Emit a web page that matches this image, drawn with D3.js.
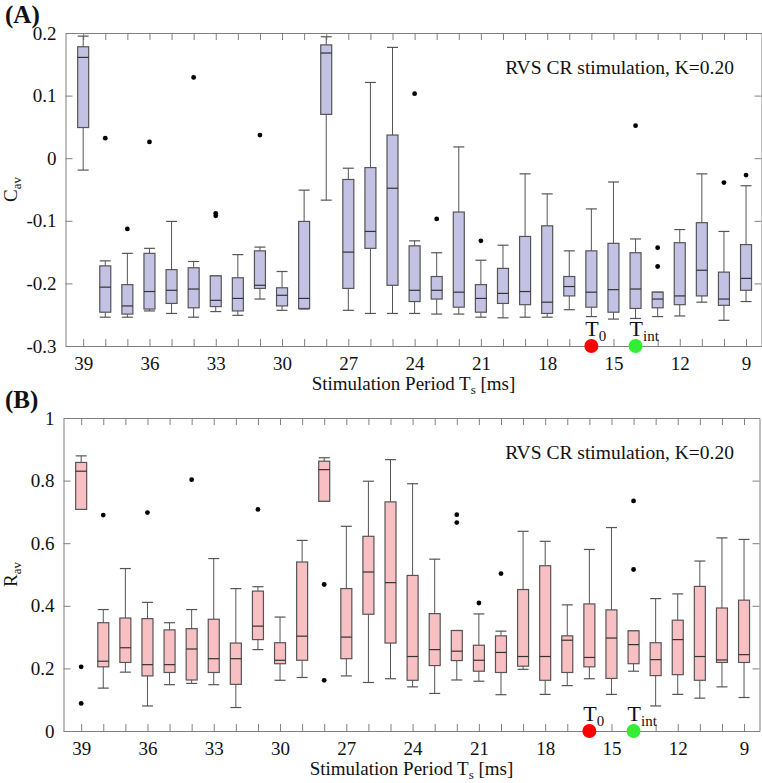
<!DOCTYPE html>
<html>
<head>
<meta charset="utf-8">
<script src="https://cdn.jsdelivr.net/npm/d3@7"></script>
<style>
  body { margin: 0; background: #fff; }
  text { font-family: "Liberation Serif", "Times New Roman", serif; fill: #111; }
</style>
</head>
<body>
<svg id="chart" width="762" height="783"></svg>
<script>
// stimulation periods, one box per period
const periods = [39, 38, 37, 36, 35, 34, 33, 32, 31, 30, 29, 28, 27, 26, 25, 24, 23, 22, 21, 20, 19, 18, 17, 16, 15, 14, 13, 12, 11, 10, 9];
const labelPeriods = [39, 36, 33, 30, 27, 24, 21, 18, 15, 12, 9];

// panel A: C_av
const cMin = [-0.019, -0.254, -0.254, -0.244, -0.248, -0.254, -0.245, -0.251, -0.225, -0.243, -0.241, -0.067, -0.243, -0.248, -0.248, -0.248, -0.249, -0.249, -0.254, -0.255, -0.254, -0.254, -0.242, -0.253, -0.257, -0.256, -0.253, -0.252, -0.230, -0.259, -0.229];
const cQ1 = [0.049, -0.246, -0.249, -0.241, -0.232, -0.239, -0.237, -0.244, -0.208, -0.236, -0.240, 0.070, -0.208, -0.144, -0.203, -0.229, -0.225, -0.238, -0.246, -0.232, -0.234, -0.248, -0.220, -0.238, -0.246, -0.240, -0.239, -0.234, -0.220, -0.235, -0.211];
const cMed = [0.161, -0.206, -0.236, -0.213, -0.211, -0.209, -0.227, -0.224, -0.203, -0.219, -0.224, 0.168, -0.150, -0.117, -0.048, -0.211, -0.211, -0.214, -0.224, -0.216, -0.213, -0.230, -0.205, -0.214, -0.210, -0.209, -0.225, -0.220, -0.179, -0.225, -0.192];
const cQ3 = [0.178, -0.172, -0.202, -0.152, -0.178, -0.175, -0.188, -0.191, -0.148, -0.207, -0.101, 0.181, -0.034, -0.015, 0.037, -0.140, -0.189, -0.086, -0.202, -0.176, -0.125, -0.108, -0.189, -0.148, -0.136, -0.151, -0.214, -0.135, -0.103, -0.182, -0.138];
const cMax = [0.195, -0.164, -0.152, -0.144, -0.101, -0.165, -0.188, -0.154, -0.142, -0.181, -0.051, 0.194, -0.016, 0.121, 0.177, -0.132, -0.151, 0.018, -0.163, -0.139, -0.025, -0.057, -0.148, -0.081, -0.038, -0.129, -0.214, -0.114, -0.025, -0.117, -0.044];
const cOutliers = [[38, 0.032], [37, -0.113], [36, 0.026], [34, 0.129], [33, -0.088], [33, -0.092], [31, 0.037], [24, 0.103], [23, -0.097], [21, -0.132], [14, 0.052], [13, -0.143], [13, -0.173], [10, -0.039], [9, -0.027]];
const cTicks = [-0.3, -0.2, -0.1, 0, 0.1, 0.2];

// panel B: R_av
const rMin = [0.708, 0.137, 0.188, 0.080, 0.148, 0.152, 0.148, 0.075, 0.260, 0.162, 0.171, 0.734, 0.176, 0.155, 0.167, 0.141, 0.120, 0.163, 0.159, 0.116, 0.197, 0.117, 0.145, 0.167, 0.117, 0.191, 0.080, 0.117, 0.105, 0.141, 0.107];
const rQ1 = [0.708, 0.205, 0.219, 0.176, 0.187, 0.163, 0.187, 0.149, 0.292, 0.215, 0.226, 0.734, 0.231, 0.373, 0.281, 0.162, 0.209, 0.225, 0.191, 0.187, 0.207, 0.162, 0.187, 0.205, 0.168, 0.215, 0.177, 0.180, 0.162, 0.219, 0.219];
const rMed = [0.830, 0.223, 0.266, 0.212, 0.212, 0.262, 0.231, 0.231, 0.335, 0.226, 0.303, 0.835, 0.300, 0.508, 0.474, 0.238, 0.260, 0.255, 0.226, 0.251, 0.238, 0.238, 0.290, 0.235, 0.297, 0.276, 0.228, 0.292, 0.238, 0.227, 0.244];
const rQ3 = [0.858, 0.346, 0.361, 0.359, 0.323, 0.327, 0.357, 0.281, 0.447, 0.282, 0.540, 0.862, 0.455, 0.622, 0.732, 0.497, 0.375, 0.321, 0.274, 0.304, 0.452, 0.528, 0.304, 0.406, 0.387, 0.320, 0.282, 0.354, 0.462, 0.393, 0.418];
const rMax = [0.879, 0.388, 0.519, 0.411, 0.346, 0.388, 0.551, 0.455, 0.461, 0.364, 0.609, 0.873, 0.654, 0.798, 0.867, 0.790, 0.549, 0.321, 0.374, 0.319, 0.638, 0.606, 0.403, 0.580, 0.650, 0.320, 0.423, 0.438, 0.543, 0.617, 0.612];
const rOutliers = [[39, 0.205], [39, 0.088], [38, 0.690], [36, 0.698], [34, 0.803], [31, 0.708], [28, 0.468], [28, 0.162], [22, 0.691], [22, 0.666], [21, 0.409], [20, 0.503], [14, 0.735], [14, 0.516]];
const rTicks = [0, 0.2, 0.4, 0.6, 0.8, 1];

const markers = [{t: 16, sub: "0", color: "#ff0000"}, {t: 14, sub: "int", color: "#33ee33"}];
const note = "RVS CR stimulation, K=0.20";

const svg = d3.select("#chart");

function stats(min, q1, med, q3, max) {
  return periods.map((t, i) => ({t: t, min: min[i], q1: q1[i], med: med[i], q3: q3[i], max: max[i]}));
}

function drawPanel(p) {
  const g = svg.append("g");
  const h = 313;
  const x = d3.scaleLinear().domain([39.8, 8.3]).range([p.left, p.left + 696]);
  const y = d3.scaleLinear().domain(p.yDomain).range([p.top + h, p.top]);
  const fmt = d => d3.format("")(d).replace("−", "-");

  const axes = [
    [d3.axisBottom(x).tickValues(periods).tickFormat(d => labelPeriods.includes(d) ? d : "").tickPadding(11), p.top + h, 0],
    [d3.axisTop(x).tickValues(periods).tickFormat(""), p.top, 0],
    [d3.axisLeft(y).tickValues(p.ticks).tickFormat(fmt).tickPadding(9), 0, p.left],
    [d3.axisRight(y).tickValues(p.ticks).tickFormat(""), 0, p.left + 696]
  ];
  axes.forEach(([ax, ty, tx]) => {
    const a = g.append("g")
      .attr("transform", `translate(${tx},${ty})`)
      .call(ax.tickSizeInner(-7).tickSizeOuter(0));
    a.select(".domain").attr("stroke", "#808080");
    a.selectAll(".tick line").attr("stroke", "#808080");
    a.selectAll(".tick text").attr("font-size", 19).attr("font-family", null).attr("fill", "#111");
  });

  // boxes
  const box = g.selectAll(".box").data(p.data).enter().append("g").attr("class", "box");
  const bw = 11;
  const stroke = "#555";
  box.append("line")
    .attr("x1", d => x(d.t)).attr("x2", d => x(d.t))
    .attr("y1", d => y(d.max)).attr("y2", d => y(d.q3))
    .attr("stroke", stroke);
  box.append("line")
    .attr("x1", d => x(d.t)).attr("x2", d => x(d.t))
    .attr("y1", d => y(d.q1)).attr("y2", d => y(d.min))
    .attr("stroke", stroke);
  box.append("line")
    .attr("x1", d => x(d.t) - 5.5).attr("x2", d => x(d.t) + 5.5)
    .attr("y1", d => y(d.max)).attr("y2", d => y(d.max))
    .attr("stroke", stroke).attr("stroke-width", 1.2);
  box.append("line")
    .attr("x1", d => x(d.t) - 5.5).attr("x2", d => x(d.t) + 5.5)
    .attr("y1", d => y(d.min)).attr("y2", d => y(d.min))
    .attr("stroke", stroke).attr("stroke-width", 1.2);
  box.append("rect")
    .attr("x", d => x(d.t) - bw / 2).attr("width", bw)
    .attr("y", d => y(d.q3)).attr("height", d => Math.max(0.5, y(d.q1) - y(d.q3)))
    .attr("fill", p.fill).attr("stroke", stroke).attr("stroke-width", 1.2);
  box.append("line")
    .attr("x1", d => x(d.t) - bw / 2).attr("x2", d => x(d.t) + bw / 2)
    .attr("y1", d => y(d.med)).attr("y2", d => y(d.med))
    .attr("stroke", "#333").attr("stroke-width", 1.2);

  g.selectAll(".out").data(p.outliers).enter().append("circle")
    .attr("cx", d => x(d[0])).attr("cy", d => y(d[1])).attr("r", 2.4).attr("fill", "#000");

  // T0 / Tint markers on the bottom axis
  markers.forEach(m => {
    g.append("circle").attr("cx", x(m.t)).attr("cy", p.top + h).attr("r", 7).attr("fill", m.color);
    const t = g.append("text").attr("x", x(m.t) - 6).attr("y", p.top + h - 10).attr("font-size", 22);
    t.append("tspan").text("T");
    t.append("tspan").attr("font-size", 15).attr("dy", 5).text(m.sub);
  });

  g.append("text").attr("x", 734).attr("y", p.top + 41).attr("text-anchor", "end")
    .attr("font-size", 19.5).text(note);

  g.append("text").attr("x", 5).attr("y", p.top - 10).attr("font-size", 25).attr("font-weight", "bold").text(p.label);

  const yl = g.append("text").attr("transform", `translate(17,${p.top + h / 2}) rotate(-90)`)
    .attr("text-anchor", "middle").attr("font-size", 19);
  yl.append("tspan").text(p.ylabel);
  yl.append("tspan").attr("font-size", 13).attr("dy", 4).text("av");

  const xl = g.append("text").attr("x", p.left + 348).attr("y", p.top + h + 44)
    .attr("text-anchor", "middle").attr("font-size", 19);
  xl.append("tspan").text("Stimulation Period T");
  xl.append("tspan").attr("font-size", 13).attr("dy", 4).text("s");
  xl.append("tspan").attr("dy", -4).text(" [ms]");
}

drawPanel({
  left: 65.5, top: 33, yDomain: [-0.3, 0.2], ticks: cTicks, fill: "#c4c2e4",
  data: stats(cMin, cQ1, cMed, cQ3, cMax), outliers: cOutliers, label: "(A)", ylabel: "C"
});
drawPanel({
  left: 63.5, top: 418, yDomain: [0, 1], ticks: rTicks, fill: "#f9c0c4",
  data: stats(rMin, rQ1, rMed, rQ3, rMax), outliers: rOutliers, label: "(B)", ylabel: "R"
});
</script>
</body>
</html>
